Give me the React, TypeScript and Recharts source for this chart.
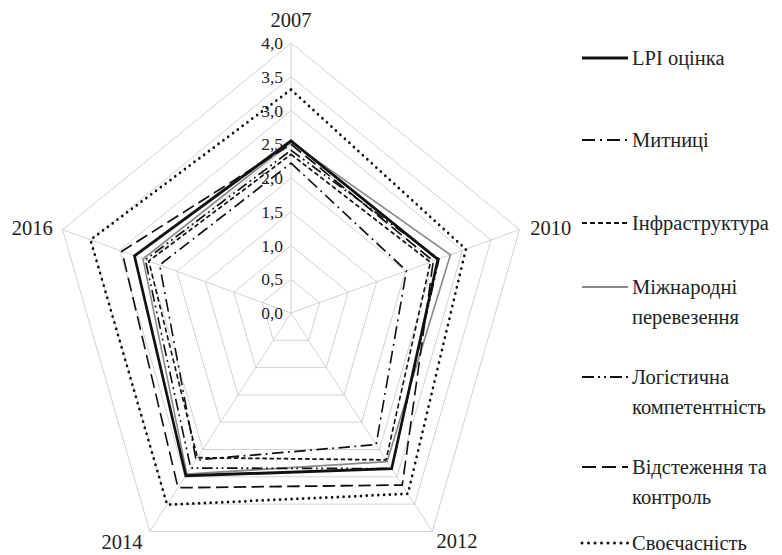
import React from 'react';
import { RadarChart, Radar, PolarGrid, PolarAngleAxis, PolarRadiusAxis } from 'recharts';

// Роки та індекси LPI (Україна)
const years = ['2007', '2010', '2012', '2014', '2016'];
const lpiScore = [2.55, 2.57, 2.85, 2.98, 2.74];
const customs = [2.22, 2.02, 2.41, 2.69, 2.3];
const infrastructure = [2.35, 2.44, 2.69, 2.65, 2.49];
const shipments = [2.53, 2.79, 2.72, 2.95, 2.59];
const competence = [2.41, 2.59, 2.85, 2.84, 2.55];
const tracking = [2.5, 2.49, 3.15, 3.2, 2.96];
const timeliness = [3.31, 3.06, 3.31, 3.51, 3.51];
const radiusTicks = [0, 0.5, 1, 1.5, 2, 2.5, 3, 3.5, 4];

const seriesNames = [
  ['LPI оцінка'],
  ['Митниці'],
  ['Інфраструктура'],
  ['Міжнародні', 'перевезення'],
  ['Логістична', 'компетентність'],
  ['Відстеження та', 'контроль'],
  ['Своєчасність'],
];
const seriesKeys = ['lpi', 'customs', 'infra', 'ship', 'comp', 'track', 'time'];
const seriesValues = [lpiScore, customs, infrastructure, shipments, competence, tracking, timeliness];

const data = years.map((y, i) => {
  const row: any = { year: y };
  seriesKeys.forEach((k, j) => (row[k] = seriesValues[j][i]));
  return row;
});

// стилі ліній
const styles: any[] = [
  { stroke: '#111', width: 3, dash: undefined },
  { stroke: '#111', width: 1.8, dash: '13 5 2 5' },
  { stroke: '#111', width: 1.8, dash: '5 3' },
  { stroke: '#8a8a8a', width: 1.8, dash: undefined },
  { stroke: '#111', width: 1.8, dash: '12 4 2 4 2 4' },
  { stroke: '#111', width: 1.8, dash: '14 6' },
  { stroke: '#111', width: 3, dash: '0 6.5', cap: 'round' },
];

const SX = 0.89;
const W = 879;
const H = 555;
const CX = 327;
const CY = 313;
const R = 270;
const FONT = "'Liberation Serif', 'Times New Roman', serif";

const legendY = [58, 140, 223, 287, 377, 467, 543];
const drawOrder = [3, 2, 1, 4, 5, 6, 0];

const RadiusTick = (props: any) => {
  const { x, y, payload } = props;
  return (
    <g transform={`translate(${x},${y}) scale(${1 / SX},1)`}>
      <text x={-8} y={0} textAnchor="end" dominantBaseline="central" fontFamily={FONT} fontSize={17.5} fill="#222">
        {Number(payload.value).toFixed(1).replace('.', ',')}
      </text>
    </g>
  );
};

const AngleTick = (props: any) => {
  const { x, y, payload } = props;
  let anchor = 'middle';
  let dx = 0;
  let dy = 0;
  if (Math.abs(x - CX) < 2) {
    dy = -15;
  } else if (x > CX) {
    anchor = 'start';
    dx = y > CY ? 0 : 4;
    dy = y > CY ? 3 : 1;
  } else {
    anchor = 'end';
    dx = -3;
    dy = y > CY ? 4 : 1;
  }
  return (
    <g transform={`translate(${x},${y}) scale(${1 / SX},1)`}>
      <text x={dx} y={dy} textAnchor={anchor} dominantBaseline="central" fontFamily={FONT} fontSize={20.5} fill="#222">
        {payload.value}
      </text>
    </g>
  );
};

export default function App() {
  return (
    <div style={{ position: 'absolute', left: 0, top: 0, width: 782, height: 555, background: '#fff', overflow: 'hidden' }}>
      <div style={{ position: 'absolute', left: 0, top: 0, width: W, height: H, transform: `scaleX(${SX})`, transformOrigin: '0 0' }}>
        <RadarChart width={W} height={H} cx={CX} cy={CY} outerRadius={R} data={data} margin={{ top: 0, right: 0, bottom: 0, left: 0 }}>
          <PolarGrid gridType="polygon" stroke="#cfcfcf" strokeWidth={1} />
          <PolarAngleAxis dataKey="year" tick={<AngleTick />} tickLine={false} axisLine={false} />
          <PolarRadiusAxis
            angle={90}
            domain={[0, 4]}
            ticks={radiusTicks as any}
            tickCount={9}
            axisLine={false}
            tick={<RadiusTick />}
          />
          {drawOrder.map((j) => (
            <Radar
              key={seriesKeys[j]}
              dataKey={seriesKeys[j]}
              name={seriesNames[j].join(' ')}
              stroke={styles[j].stroke}
              strokeWidth={styles[j].width}
              strokeDasharray={styles[j].dash}
              strokeLinecap={styles[j].cap || 'butt'}
              fill="none"
              fillOpacity={0}
              dot={false}
              isAnimationActive={false}
            />
          ))}
        </RadarChart>
      </div>
      <svg width={782} height={555} style={{ position: 'absolute', left: 0, top: 0, pointerEvents: 'none' }}>
        {seriesNames.map((lines, j) => (
          <g key={j}>
            <line
              x1={582}
              x2={628}
              y1={legendY[j]}
              y2={legendY[j]}
              stroke={styles[j].stroke}
              strokeWidth={styles[j].width}
              strokeDasharray={styles[j].dash}
              strokeLinecap={styles[j].cap || 'butt'}
            />
            {lines.map((t, k) => (
              <text key={k} x={632} y={legendY[j] + k * 30} dominantBaseline="central" fontFamily={FONT} fontSize={20.5} fill="#222">
                {t}
              </text>
            ))}
          </g>
        ))}
      </svg>
    </div>
  );
}
